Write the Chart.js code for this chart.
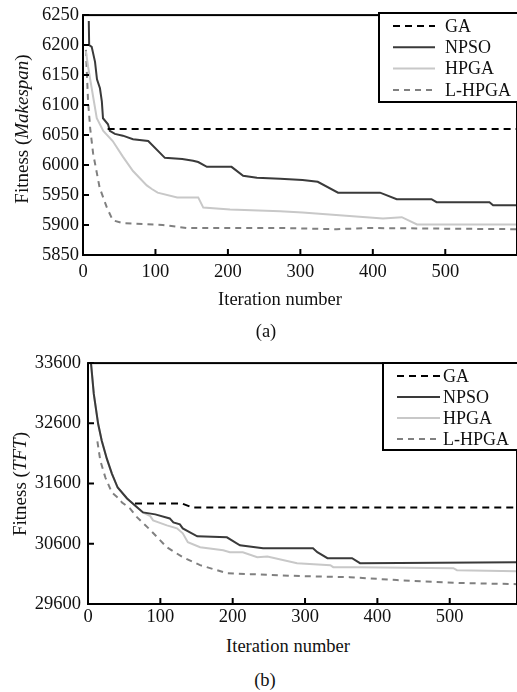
<!DOCTYPE html>
<html>
<head>
<meta charset="utf-8">
<script src="https://cdn.jsdelivr.net/npm/chart.js@4.4.0/dist/chart.umd.min.js"></script>
<style>
  body { margin: 0; background: #fff; }
  #wrap { position: relative; width: 517px; height: 692px; overflow: hidden; font-family: "Liberation Serif", "Times New Roman", serif; color: #111; }
  canvas { position: absolute; left: 0; }
  .lbl { position: absolute; white-space: nowrap; line-height: 18px; transform: translate(-50%, -50%); }
  .ytitle { position: absolute; white-space: nowrap; line-height: 20px; font-size: 19px; transform: translate(-50%, -50%) rotate(-90deg); }
</style>
</head>
<body>
<div id="wrap">
  <canvas id="chartA" width="517" height="290" style="top:0"></canvas>
  <canvas id="chartB" width="517" height="285" style="top:345px"></canvas>
  <div class="ytitle" style="left:22px; top:129px">Fitness (<i>Makespan</i>)</div>
  <div class="ytitle" style="left:20px; top:484px">Fitness (<i>TFT</i>)</div>
  <div class="lbl" style="left:280px; top:299px; font-size:18.5px">Iteration number</div>
  <div class="lbl" style="left:266px; top:331px; font-size:18.5px">(a)</div>
  <div class="lbl" style="left:288px; top:646px; font-size:18.5px">Iteration number</div>
  <div class="lbl" style="left:265px; top:680px; font-size:18.5px">(b)</div>
</div>
<script>
// series labels
const seriesNames = ["GA", "NPSO", "HPGA", "L-HPGA"];

// (a) makespan, [iteration, fitness]
const gaA = [[34, 6060], [599, 6060]];
const npsoA = [[8, 6240], [8.5, 6200], [12, 6197], [16.6, 6172], [19.3, 6143], [23.4, 6128], [26, 6106],
  [27.6, 6078], [34.5, 6068], [37, 6057], [44, 6052], [55, 6049], [69, 6043], [90, 6040], [113, 6012],
  [137, 6010], [152, 6007], [159, 6005], [171, 5997], [205, 5997], [221, 5982], [240, 5979], [272, 5977],
  [303, 5975], [324, 5972], [352, 5954], [410, 5954], [433, 5943], [481, 5943], [488, 5938], [561, 5938],
  [566, 5933], [599, 5933]];
const hpgaA = [[4, 6190], [7, 6164], [12, 6128], [19, 6078], [28, 6057], [41, 6040], [55, 6014], [69, 5990],
  [88, 5966], [95, 5960], [103, 5954], [130, 5946], [159, 5946], [166, 5929], [203, 5926], [272, 5923],
  [303, 5921], [414, 5911], [440, 5913], [461, 5901], [599, 5901]];
const lhpgaA = [[4, 6192], [7, 6106], [10, 6060], [14, 6019], [23, 5962], [33, 5929], [41, 5908], [55, 5903],
  [110, 5900], [143, 5895], [272, 5895], [350, 5893], [392, 5895], [599, 5893]];

// (b) TFT, [iteration, fitness]
const gaB = [[65, 31269], [130, 31269], [144, 31203], [593, 31203]];
const npsoB = [[3, 33750], [8, 33088], [14, 32592], [19, 32310], [26, 32013], [33, 31765], [41, 31534],
  [54, 31352], [65, 31236], [76, 31121], [93, 31088], [113, 31021], [118, 30955], [127, 30922],
  [131, 30856], [141, 30790], [151, 30724], [192, 30707], [210, 30575], [242, 30526], [311, 30526],
  [317, 30460], [331, 30360], [365, 30360], [376, 30278], [593, 30294]];
const hpgaB = [[3, 33750], [8, 33088], [14, 32592], [19, 32310], [26, 32013], [33, 31765], [41, 31534],
  [54, 31352], [65, 31236], [76, 31121], [86, 31060], [90, 30988], [109, 30905], [123, 30856],
  [131, 30773], [138, 30625], [155, 30542], [187, 30493], [196, 30460], [214, 30460], [234, 30377],
  [248, 30390], [289, 30278], [335, 30245], [339, 30212], [372, 30212], [505, 30195], [510, 30162],
  [593, 30145]];
const lhpgaB = [[13, 32300], [17, 31980], [24, 31700], [33, 31451], [41, 31368], [47, 31286], [58, 31187],
  [68, 31038], [86, 30830], [109, 30542], [131, 30377], [155, 30245], [192, 30112], [224, 30096],
  [293, 30063], [362, 30046], [427, 29997], [519, 29947], [593, 29930]];

// axis ranges / ticks
const xTicks = [0, 100, 200, 300, 400, 500];
const xMaxA = 599, xMaxB = 593;
const yTicksA = [5850, 5900, 5950, 6000, 6050, 6100, 6150, 6200, 6250];
const yTicksB = [29600, 30600, 31600, 32600, 33600];

const FONT = "'Liberation Serif', 'Times New Roman', serif";

// black frame + inward tick marks
const frame = {
  id: "frame",
  afterDatasetsDraw(chart) {
    const { ctx, chartArea: a, scales: { x, y } } = chart;
    ctx.save();
    ctx.strokeStyle = "#000";
    ctx.lineWidth = 2;
    ctx.beginPath();
    x.ticks.forEach((t) => {
      const px = x.getPixelForValue(t.value);
      ctx.moveTo(px, a.bottom);
      ctx.lineTo(px, a.bottom - 6);
    });
    y.ticks.forEach((t) => {
      const py = y.getPixelForValue(t.value);
      ctx.moveTo(a.left, py);
      ctx.lineTo(a.left + 6, py);
    });
    ctx.stroke();
    ctx.strokeRect(a.left, a.top, a.right - a.left, a.bottom - a.top);
    ctx.restore();
  },
};

// boxed legend with line samples
const boxLegend = {
  id: "boxLegend",
  afterDraw(chart, args, o) {
    const ctx = chart.ctx;
    ctx.save();
    ctx.fillStyle = "#fff";
    ctx.fillRect(o.left, o.top, o.width, o.height);
    ctx.strokeStyle = "#000";
    ctx.lineWidth = 2;
    ctx.strokeRect(o.left, o.top, o.width, o.height);
    ctx.font = "18px " + FONT;
    ctx.textBaseline = "middle";
    chart.data.datasets.forEach((ds, i) => {
      const yy = o.top + o.first + i * o.rowH;
      ctx.beginPath();
      ctx.strokeStyle = ds.borderColor;
      ctx.lineWidth = ds.borderWidth;
      ctx.setLineDash(ds.borderDash || []);
      ctx.moveTo(o.lineX, yy);
      ctx.lineTo(o.lineX + o.lineW, yy);
      ctx.stroke();
      ctx.setLineDash([]);
      ctx.fillStyle = "#111";
      ctx.fillText(ds.label, o.textX, yy + 1);
    });
    ctx.restore();
  },
};

function makeSets(ga, npso, hpga, lhpga) {
  const pts = (arr) => arr.map(([x, y]) => ({ x, y }));
  return [
    { label: seriesNames[0], data: pts(ga), borderColor: "#000", borderWidth: 2, borderDash: [7, 5] },
    { label: seriesNames[1], data: pts(npso), borderColor: "#3a3a3a", borderWidth: 2 },
    { label: seriesNames[2], data: pts(hpga), borderColor: "#c8c8c8", borderWidth: 2 },
    { label: seriesNames[3], data: pts(lhpga), borderColor: "#808080", borderWidth: 2, borderDash: [6, 5] },
  ];
}

function makeChart(id, sets, cfg) {
  return new Chart(document.getElementById(id), {
    type: "line",
    data: { datasets: sets },
    options: {
      responsive: false,
      animation: false,
      devicePixelRatio: 1,
      layout: { padding: { top: cfg.padTop, right: 0, left: 0, bottom: 0 } },
      elements: { point: { radius: 0 }, line: { tension: 0 } },
      plugins: { legend: { display: false }, tooltip: { enabled: false }, boxLegend: cfg.legend },
      scales: {
        x: {
          type: "linear",
          min: 0,
          max: cfg.xMax,
          grid: { display: false, drawTicks: false },
          border: { display: false },
          ticks: { color: "#111", padding: cfg.xPad, maxRotation: 0, autoSkip: false, font: { family: FONT, size: 18.5 }, callback: (v) => String(v) },
          afterBuildTicks: (s) => { s.ticks = xTicks.map((v) => ({ value: v })); },
          afterFit: (s) => { s.height = cfg.xH; },
        },
        y: {
          min: cfg.yTicks[0],
          max: cfg.yTicks[cfg.yTicks.length - 1],
          grid: { display: false, drawTicks: false },
          border: { display: false },
          ticks: { color: "#111", padding: cfg.yPad, autoSkip: false, font: { family: FONT, size: 18.5 }, callback: (v) => String(v) },
          afterBuildTicks: (s) => { s.ticks = cfg.yTicks.map((v) => ({ value: v })); },
          afterFit: (s) => { s.width = cfg.yW; },
        },
      },
    },
    plugins: [frame, boxLegend],
  });
}

makeChart("chartA", makeSets(gaA, npsoA, hpgaA, lhpgaA), {
  padTop: 13, xH: 35, yW: 83, xPad: 6, yPad: 4, xMax: xMaxA, yTicks: yTicksA,
  legend: { left: 379, top: 13, width: 140, height: 89, first: 13, rowH: 21.3, lineX: 393, lineW: 42, textX: 445 },
});

makeChart("chartB", makeSets(gaB, npsoB, hpgaB, lhpgaB), {
  padTop: 17, xH: 26, yW: 88, xPad: 2, yPad: 7, xMax: xMaxB, yTicks: yTicksB,
  legend: { left: 383, top: 18, width: 136, height: 87, first: 13, rowH: 21, lineX: 397, lineW: 43, textX: 443 },
});
</script>
</body>
</html>
